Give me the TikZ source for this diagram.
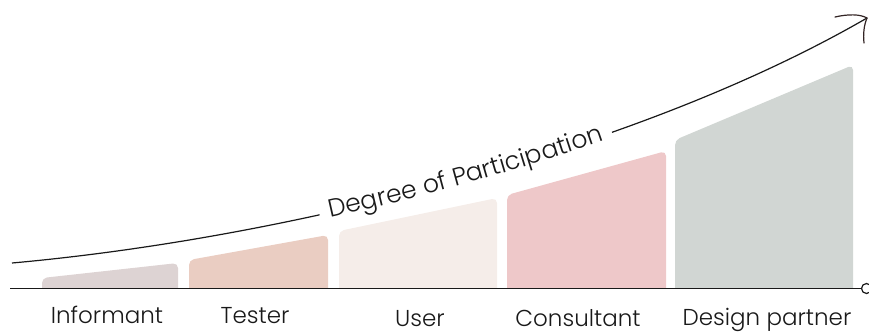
\documentclass[tikz,border=0pt]{standalone}
\usepackage{fontspec}
\setmainfont{Poppins}[UprightFont=* Light]
\usetikzlibrary{decorations.text}
\definecolor{cInf}{RGB}{221,211,211}
\definecolor{cTes}{RGB}{234,205,194}
\definecolor{cUse}{RGB}{245,237,233}
\definecolor{cCon}{RGB}{238,200,201}
\definecolor{cDes}{RGB}{209,214,211}
\definecolor{ink}{RGB}{25,25,25}
\definecolor{arrowink}{RGB}{50,36,36}
\tikzset{
  axisline/.style={draw=ink, line width=1.2pt},
  curveline/.style={draw=ink, line width=1.2pt},
  lbl/.style={anchor=base, inner sep=0pt, font=\fontsize{23}{27}\selectfont, text=ink}
}
\begin{document}
\begin{tikzpicture}[x=1pt,y=-1pt]
\useasboundingbox (0,0) rectangle (869,333);
% bars
\fill[cInf] (42,288) [rounded corners=5pt] -- (42,278) -- (178,263) [sharp corners] -- (178,288) -- cycle;
\fill[cTes] (189,288) [rounded corners=5pt] -- (189,260) -- (328,235) [sharp corners] -- (328,288) -- cycle;
\fill[cUse] (339,288) [rounded corners=5pt] -- (339,231) -- (497,198) [sharp corners] -- (497,288) -- cycle;
\fill[cCon] (507,288) [rounded corners=5pt] -- (507,195) -- (666,151) [sharp corners] -- (666,288) -- cycle;
\fill[cDes] (675,288) [rounded corners=5pt] -- (675,140) -- (853,65) [sharp corners] -- (853,288) -- cycle;
% axis
\coordinate (axL) at (10,288.5);
\node[circle, draw=ink, line width=1.2pt, minimum size=10pt, inner sep=0pt] (axC) at (866.5,288.5) {};
\draw[axisline] (axL) -- (axC.west);
% curve
\coordinate (c0) at (12,263);
\coordinate (s) at (319.6,214.8);
\coordinate (d) at (612,132.3);
\coordinate (tip) at (867,18);
\draw[curveline] (c0) .. controls (109.9,254.2) and (215,237.7) .. (s);
\draw[curveline] (d) .. controls (706.7,98.9) and (793.8,60.4) .. (tip);
\path[decorate, decoration={text along path, text align=center, raise=-5pt,
  text={|\fontsize{25}{29}\selectfont\color{ink}|Degree of Participation}}]
  (s) .. controls (419.8,192.9) and (519.5,165.0) .. (d);
% hand-drawn arrow head
\draw[arrowink, line width=1.2pt, line cap=round] (835,17) .. controls (848,14) and (860,14) .. (tip);
\draw[arrowink, line width=1.2pt, line cap=round] (864,43) .. controls (863,34) and (864,25) .. (tip);
% labels
\node[lbl] (lInf) at (107,323) {Informant};
\node[lbl] (lTes) at (255,323) {Tester};
\node[lbl] (lUse) at (420,326.5) {User};
\node[lbl] (lCon) at (578,326.5) {Consultant};
\node[lbl] (lDes) at (767,325) {Design partner};
\end{tikzpicture}
\end{document}
